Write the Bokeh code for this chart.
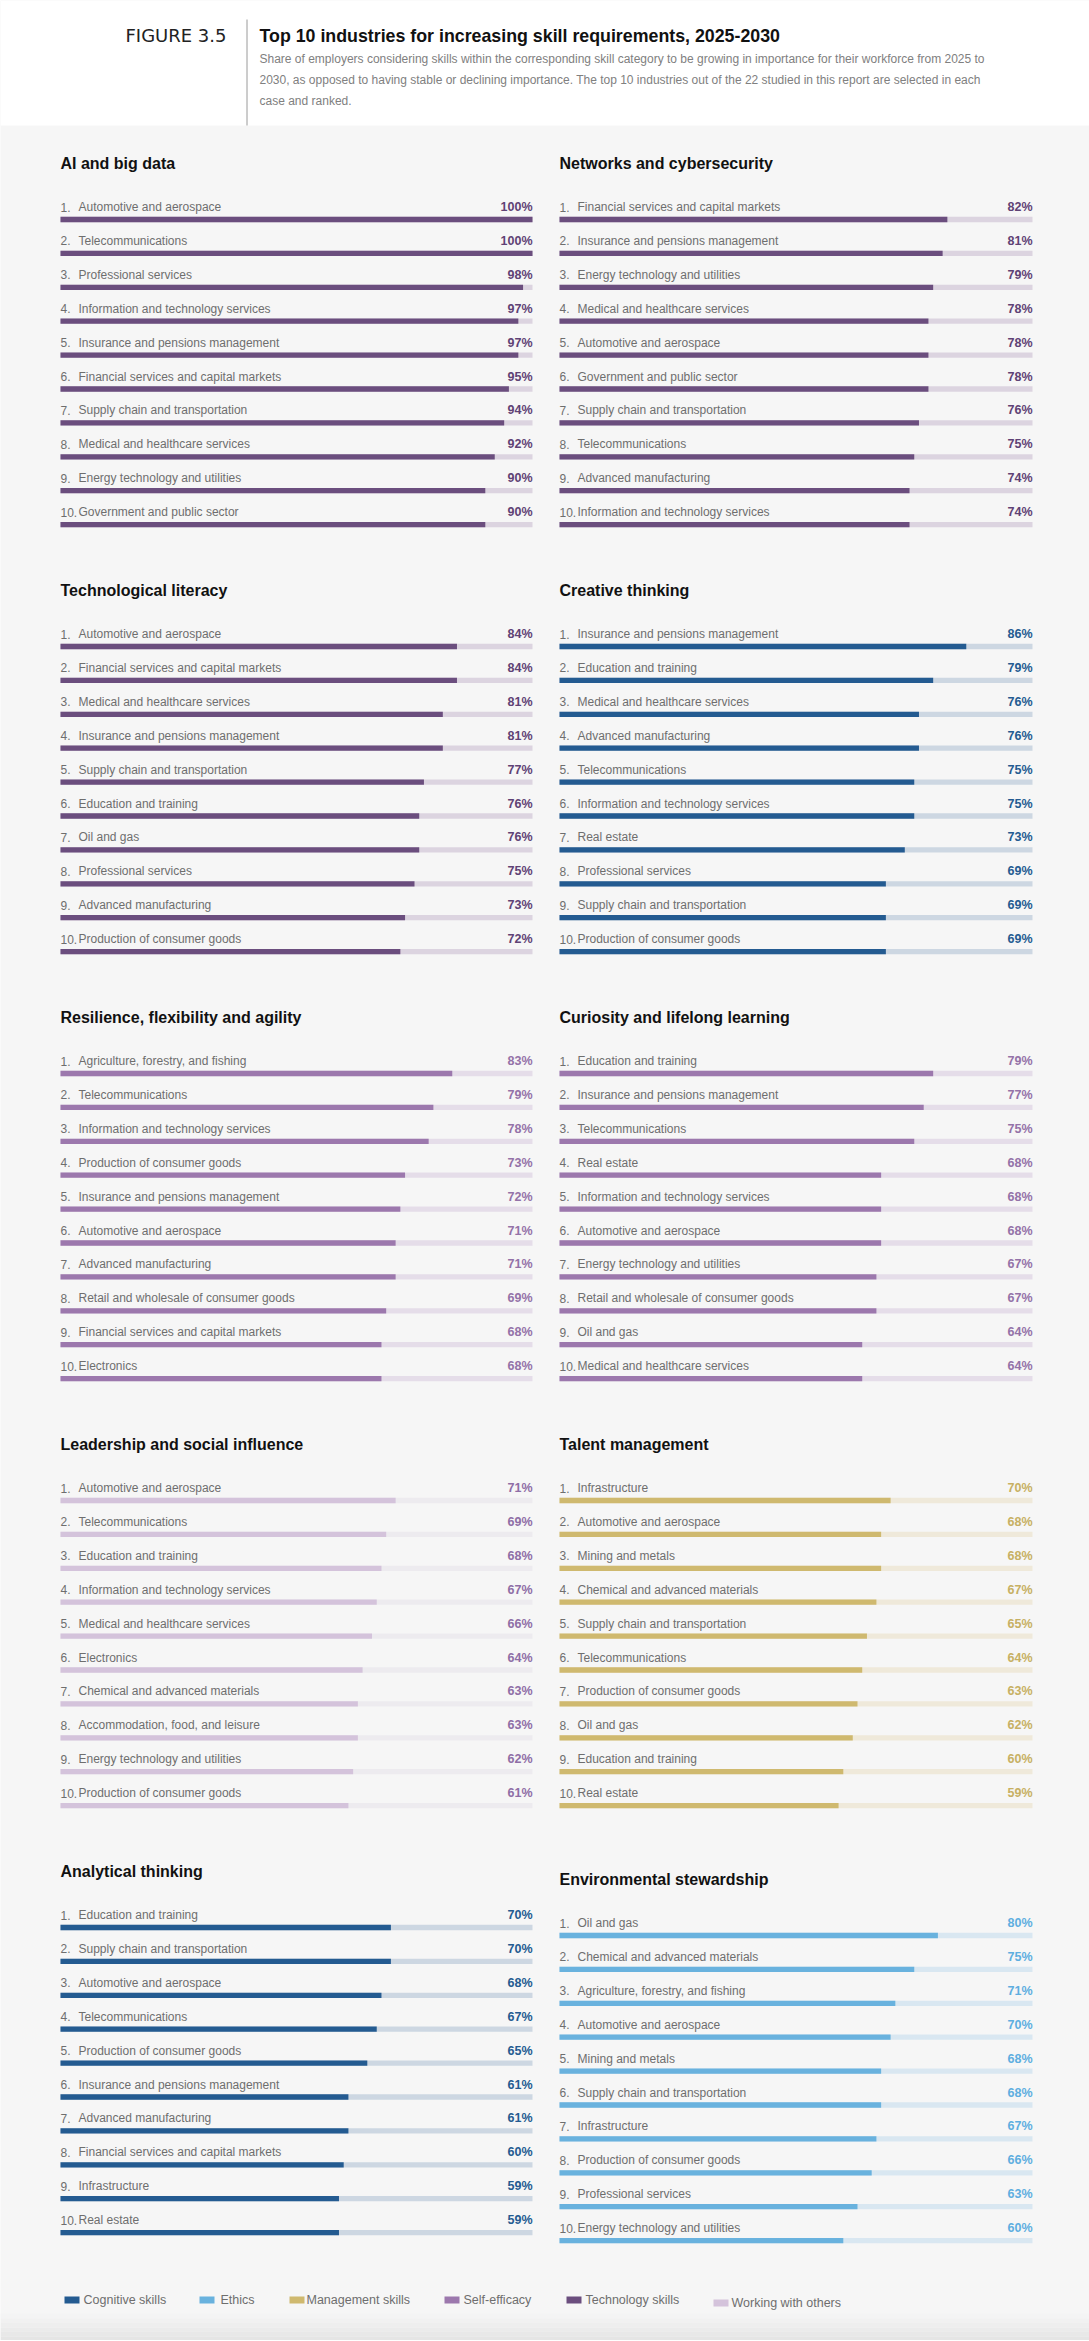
from bokeh.plotting import figure
from bokeh.models import Range1d, ColumnDataSource
from bokeh.core.properties import value
from bokeh.embed import file_html
from bokeh.resources import INLINE

FONT = value("Liberation Sans")

# ---------------- data ----------------
skills = ["Cognitive skills", "Ethics", "Management skills", "Self-efficacy",
          "Technology skills", "Working with others"]
skill_bar = ["#245b91", "#69b2de", "#cfb96f", "#9c78ad", "#6b4e7e", "#d4c3db"]
skill_track = ["#cdd7e2", "#d9e7f1", "#efe9da", "#e5dde9", "#dcd4e0", "#edebef"]
skill_text = ["#245b91", "#5eaee0", "#c7b063", "#9472a8", "#5f4275", "#8f6ea6"]

ai_names = ["Automotive and aerospace", "Telecommunications", "Professional services",
            "Information and technology services", "Insurance and pensions management",
            "Financial services and capital markets", "Supply chain and transportation",
            "Medical and healthcare services", "Energy technology and utilities",
            "Government and public sector"]
ai_values = [100, 100, 98, 97, 97, 95, 94, 92, 90, 90]

net_names = ["Financial services and capital markets", "Insurance and pensions management",
             "Energy technology and utilities", "Medical and healthcare services",
             "Automotive and aerospace", "Government and public sector",
             "Supply chain and transportation", "Telecommunications",
             "Advanced manufacturing", "Information and technology services"]
net_values = [82, 81, 79, 78, 78, 78, 76, 75, 74, 74]

tech_names = ["Automotive and aerospace", "Financial services and capital markets",
              "Medical and healthcare services", "Insurance and pensions management",
              "Supply chain and transportation", "Education and training", "Oil and gas",
              "Professional services", "Advanced manufacturing", "Production of consumer goods"]
tech_values = [84, 84, 81, 81, 77, 76, 76, 75, 73, 72]

crea_names = ["Insurance and pensions management", "Education and training",
              "Medical and healthcare services", "Advanced manufacturing", "Telecommunications",
              "Information and technology services", "Real estate", "Professional services",
              "Supply chain and transportation", "Production of consumer goods"]
crea_values = [86, 79, 76, 76, 75, 75, 73, 69, 69, 69]

res_names = ["Agriculture, forestry, and fishing", "Telecommunications",
             "Information and technology services", "Production of consumer goods",
             "Insurance and pensions management", "Automotive and aerospace",
             "Advanced manufacturing", "Retail and wholesale of consumer goods",
             "Financial services and capital markets", "Electronics"]
res_values = [83, 79, 78, 73, 72, 71, 71, 69, 68, 68]

cur_names = ["Education and training", "Insurance and pensions management",
             "Telecommunications", "Real estate", "Information and technology services",
             "Automotive and aerospace", "Energy technology and utilities",
             "Retail and wholesale of consumer goods", "Oil and gas",
             "Medical and healthcare services"]
cur_values = [79, 77, 75, 68, 68, 68, 67, 67, 64, 64]

lead_names = ["Automotive and aerospace", "Telecommunications", "Education and training",
              "Information and technology services", "Medical and healthcare services",
              "Electronics", "Chemical and advanced materials",
              "Accommodation, food, and leisure", "Energy technology and utilities",
              "Production of consumer goods"]
lead_values = [71, 69, 68, 67, 66, 64, 63, 63, 62, 61]

tal_names = ["Infrastructure", "Automotive and aerospace", "Mining and metals",
             "Chemical and advanced materials", "Supply chain and transportation",
             "Telecommunications", "Production of consumer goods", "Oil and gas",
             "Education and training", "Real estate"]
tal_values = [70, 68, 68, 67, 65, 64, 63, 62, 60, 59]

ana_names = ["Education and training", "Supply chain and transportation",
             "Automotive and aerospace", "Telecommunications", "Production of consumer goods",
             "Insurance and pensions management", "Advanced manufacturing",
             "Financial services and capital markets", "Infrastructure", "Real estate"]
ana_values = [70, 70, 68, 67, 65, 61, 61, 60, 59, 59]

env_names = ["Oil and gas", "Chemical and advanced materials",
             "Agriculture, forestry, and fishing", "Automotive and aerospace",
             "Mining and metals", "Supply chain and transportation", "Infrastructure",
             "Production of consumer goods", "Professional services",
             "Energy technology and utilities"]
env_values = [80, 75, 71, 70, 68, 68, 67, 66, 63, 60]

panels = [
    ("AI and big data", ai_names, ai_values, "Technology skills"),
    ("Networks and cybersecurity", net_names, net_values, "Technology skills"),
    ("Technological literacy", tech_names, tech_values, "Technology skills"),
    ("Creative thinking", crea_names, crea_values, "Cognitive skills"),
    ("Resilience, flexibility and agility", res_names, res_values, "Self-efficacy"),
    ("Curiosity and lifelong learning", cur_names, cur_values, "Self-efficacy"),
    ("Leadership and social influence", lead_names, lead_values, "Working with others"),
    ("Talent management", tal_names, tal_values, "Management skills"),
    ("Analytical thinking", ana_names, ana_values, "Cognitive skills"),
    ("Environmental stewardship", env_names, env_values, "Ethics"),
]

fig_label = "FIGURE 3.5"
fig_title = "Top 10 industries for increasing skill requirements, 2025-2030"
fig_sub = ["Share of employers considering skills within the corresponding skill category to be growing in importance for their workforce from 2025 to",
           "2030, as opposed to having stable or declining importance. The top 10 industries out of the 22 studied in this report are selected in each",
           "case and ranked."]

# ---------------- layout constants (screen pixels) ----------------
W, H = 1089, 2340
PANEL_BG = "#f6f6f6"
PITCH = 33.9                 # px per rank step
ROW_PITCH = 427              # px between panel rows
FIRST_BAR = 219              # px, first bar of first panel row
COL_ZERO = [60, 559]         # px where 0% sits, left / right column
COL_PXU = [4.72, 4.73]       # px per percentage point
ENV_SHIFT = 8                # environmental panel sits slightly lower

p = figure(width=W, height=H, output_backend="svg", toolbar_location=None,
           x_range=Range1d(0, W), y_range=Range1d(H, 0),
           x_axis_location=None, y_axis_location=None, min_border=0,
           background_fill_color=PANEL_BG, border_fill_color=PANEL_BG,
           outline_line_color=None)
p.grid.visible = False

for c in range(2):
    s = -COL_ZERO[c] / COL_PXU[c]
    p.extra_x_ranges[f"col{c}"] = Range1d(s, s + W / COL_PXU[c])


def y_range_for(first_bar_px):
    top = 1 - first_bar_px / PITCH
    return Range1d(top + H / PITCH, top)


# ---------------- header ----------------
p.quad(left=[0], right=[W], top=[0], bottom=[125], fill_color="#ffffff", line_color=None)
p.segment(x0=[246.5], y0=[19], x1=[246.5], y1=[125], line_color="#9a9a9a", line_width=1)
p.text(x=[226], y=[35], text=[fig_label], text_font=value("DejaVu Sans"),
       text_font_size="18px", text_color="#222222", text_baseline="middle",
       text_align="right")
p.text(x=[259], y=[35], text=[fig_title], text_font=FONT, text_font_size="17.8px",
       text_font_style="bold", text_color="#111111", text_baseline="middle",
       text_align="left")
p.text(x=[259] * 3, y=[58, 79, 100], text=fig_sub, text_font=FONT,
       text_font_size="12px", text_color="#808080", text_baseline="middle",
       text_align="left")

# ---------------- panels ----------------
bh = 5.3 / PITCH
lab_dy = 12.5 / PITCH
for i, (title, names, vals, skill) in enumerate(panels):
    c = i % 2
    r = i // 2
    k = skills.index(skill)
    first = FIRST_BAR + ROW_PITCH * r + (ENV_SHIFT if title == "Environmental stewardship" else 0)
    yname = f"panel{i}"
    p.extra_y_ranges[yname] = y_range_for(first)
    xname = f"col{c}"
    ranks = list(range(1, len(names) + 1))
    src = ColumnDataSource(dict(
        rank=ranks, val=vals, full=[100] * len(vals),
        num=[f"{n}." for n in ranks], name=names,
        pct=[f"{v}%" for v in vals],
        ylab=[n - lab_dy for n in ranks]))
    kw = dict(x_range_name=xname, y_range_name=yname, source=src)
    p.hbar(y="rank", left=0, right="full", height=bh,
           fill_color=skill_track[k], line_color=None, **kw)
    p.hbar(y="rank", left=0, right="val", height=bh,
           fill_color=skill_bar[k], line_color=None, **kw)
    p.text(x=0, y="ylab", text="num", text_font=FONT, text_font_size="12px",
           text_color="#6e6e6e", text_baseline="middle", text_align="left", **kw)
    p.text(x=18 / COL_PXU[c], y="ylab", text="name", text_font=FONT,
           text_font_size="12px", text_color="#6e6e6e", text_baseline="middle",
           text_align="left", **kw)
    p.text(x=100, y="ylab", text="pct", text_font=FONT, text_font_size="12.5px",
           text_font_style="bold", text_color=skill_text[k], text_baseline="middle",
           text_align="right", **kw)
    p.text(x=[0], y=[1 - 56.5 / PITCH], text=[title], text_font=FONT,
           text_font_size="16px", text_font_style="bold", text_color="#111111",
           text_baseline="middle", text_align="left",
           x_range_name=xname, y_range_name=yname)

# ---------------- legend + bottom shading ----------------
band_cols = ["#f4f4f4", "#f1f1f1", "#eeeeee", "#ebebeb", "#e8e8e8", "#e5e5e5"]
p.quad(left=0, right=W, top=[2313, 2318, 2322, 2327, 2331, 2336],
       bottom=[2318, 2322, 2327, 2331, 2336, 2341], fill_color=band_cols, line_color=None)
leg_x = [64, 199, 289, 444, 566, 713]
leg_tx = [83, 220, 306, 463, 585, 731]
leg_y = [2299.5, 2299.5, 2299.5, 2299.5, 2299.5, 2302.5]
p.rect(x=[x + 7.5 for x in leg_x], y=leg_y, width=15, height=7,
       fill_color=skill_bar, line_color=None)
p.text(x=leg_tx, y=leg_y, text=skills, text_font=FONT, text_font_size="12.5px",
       text_color="#6e6e6e", text_baseline="middle", text_align="left")

open("out.html", "w").write(file_html(p, INLINE))
